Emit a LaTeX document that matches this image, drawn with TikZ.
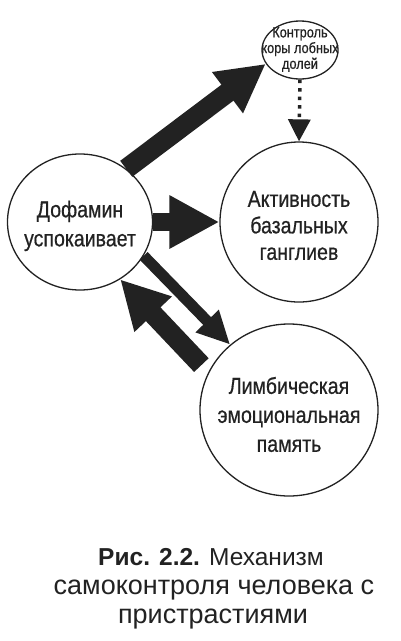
\documentclass[tikz,border=0pt]{standalone}
\usepackage{fontspec}
\usepackage{graphicx}
\setmainfont{Liberation Sans}
\newfontfamily\heavyfont[FakeBold=0.6]{Liberation Sans}
\usetikzlibrary{arrows.meta,shapes.geometric}
\definecolor{ink}{RGB}{34,34,34}
\newcommand\narrowlines[2][0.85]{\scalebox{#1}[1]{\begin{tabular}{@{}c@{}}#2\end{tabular}}}
\begin{document}
\begin{tikzpicture}[x=1pt,y=-1pt,
  bubble/.style={draw=ink, line width=1.3pt, ellipse, inner sep=0pt},
  bubbletext/.style={inner sep=0pt, text=ink, font=\heavyfont\fontsize{23}{29}\selectfont},
  smalltext/.style={inner sep=0pt, text=ink, font=\heavyfont\fontsize{15}{15.5}\selectfont},
  bigarrow/.style={draw=ink, line width=20pt, -{Triangle[length=48pt,width=48pt]}},
  midarrow/.style={draw=ink, line width=18pt, -{Triangle[length=50pt,width=50pt]}},
  thinarrow/.style={draw=ink, line width=11pt, -{Triangle[length=33pt,width=30pt]}},
  dotarrow/.style={draw=ink, line width=3.5pt, dash pattern=on 3.5pt off 5pt,
    -{Triangle[length=22pt,width=22pt]}},
  captext/.style={inner sep=0pt, anchor=base, text=ink}]
\useasboundingbox (0,0) rectangle (400,641);
\fill[white] (0,0) rectangle (400,641);

\node[bubble, minimum width=76pt, minimum height=58pt] (ctl) at (300,50) {};
\node[bubble, minimum width=145pt, minimum height=136pt] (dof) at (80,222) {};
\node[bubble, minimum width=158pt, minimum height=160pt] (akt) at (299,222) {};
\node[bubble, minimum width=178pt, minimum height=172pt] (lim) at (289,410) {};

\node[smalltext] (ctlt) at (300,50) {\narrowlines{Контроль\\коры лобных\\долей}};
\node[bubbletext] (doft) at (80,226) {\narrowlines{Дофамин\\успокаивает}};
\node[bubbletext, font=\heavyfont\fontsize{23}{26.5}\selectfont] (aktt) at (299,228)
  {\narrowlines{Активность\\базальных\\ганглиев}};
\node[bubbletext] (limt) at (289,417) {\narrowlines{Лимбическая\\эмоциональная\\память}};

\draw[bigarrow] (dof.49) -- (ctl.202);
\draw[midarrow] (dof.east) -- (akt.west);
\draw[thinarrow] (dof.-28) -- (lim.132);
\draw[bigarrow, shorten <=10pt] (lim.155) -- (dof.-55);
\draw[dotarrow] (ctl.south) -- (akt.north);

\node[captext, font=\fontsize{24.5}{29}\selectfont] (cap1) at (211,565)
  {\textbf{Рис. 2.2.} Механизм};
\node[captext, font=\fontsize{27}{29}\selectfont] (cap2) at (214,594)
  {самоконтроля человека с};
\node[captext, font=\fontsize{27}{29}\selectfont] (cap3) at (213,623)
  {пристрастиями};
\end{tikzpicture}
\end{document}
